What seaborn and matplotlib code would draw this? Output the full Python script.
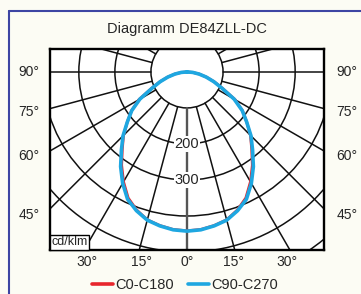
import numpy as np
import pandas as pd
import matplotlib
matplotlib.use('Agg')
import matplotlib.pyplot as plt
import seaborn as sns
from matplotlib.patches import Circle
from matplotlib.lines import Line2D

sns.set_style('white')
plt.rcParams['font.family'] = ['Liberation Sans', 'DejaVu Sans']

# luminous intensity distribution, cd/klm, angle from nadir (deg)
angles = [0, 5, 10, 15, 20, 25, 30, 35, 40, 45, 50, 55, 60, 65, 70, 75, 80, 85, 90]
c0_c180 = [441, 439, 433, 425, 408, 386, 352, 316, 279, 249, 216, 188, 154, 109, 81, 56, 35, 16, 0]
c90_c270 = [442, 440, 434, 426, 410, 390, 357, 321, 283, 251, 216, 187, 151, 107, 79, 55, 34, 16, 0]
series_names = ['C0-C180', 'C90-C270']
series_colors = ['#e8262d', '#1ea7e1']

ring_values = [100, 200, 300, 400, 500, 600]
ring_labels = ['200', '300']
side_labels = ['90°', '75°', '60°', '45°']
bottom_labels = ['30°', '15°', '0°', '15°', '30°']
title = 'Diagramm DE84ZLL-DC'

W, H = 361, 294
bg = '#fcfcf4'


def polar_frame(name, values):
    th = np.deg2rad(np.r_[-np.array(angles[::-1]), np.array(angles[1:])])
    r = np.r_[np.array(values[::-1]), np.array(values[1:])]
    return pd.DataFrame({'x': r * np.sin(th), 'y': -r * np.cos(th), 'series': name})


df = pd.concat([polar_frame(series_names[0], c0_c180),
                polar_frame(series_names[1], c90_c270)], ignore_index=True)

fig = plt.figure(figsize=(W / 100, H / 100), dpi=100, facecolor=bg)
ax = fig.add_axes([50 / W, 1 - 249.5 / H, 274 / W, 201 / H])
ax.set_facecolor('white')

# grid: rings and radial lines (from the 100 ring outward)
for rv in ring_values:
    ax.add_patch(Circle((0, 0), rv, fill=False, ec='#111111', lw=1.1, zorder=1))
for a in range(-180, 180, 15):
    t = np.deg2rad(a)
    col, lw = ('#555555', 1.7) if a == 0 else ('#111111', 1.1)
    ax.plot([100 * np.sin(t), 1200 * np.sin(t)], [-100 * np.cos(t), -1200 * np.cos(t)],
            color=col, lw=lw, zorder=1)

widths = [2.0, 2.6]
for name, col, lw in zip(series_names, series_colors, widths):
    sns.lineplot(data=df[df['series'] == name], x='x', y='y', sort=False, estimator=None,
                 color=col, lw=lw, ax=ax, label=name, zorder=3)

for lab in ring_labels:
    ax.text(0, -float(lab), lab, ha='center', va='center', fontsize=10.5, zorder=4,
            bbox=dict(boxstyle='square,pad=0.08', fc='white', ec='none'))

ax.text(0.004, 0.006, 'cd/klm', transform=ax.transAxes, ha='left', va='bottom', fontsize=9, zorder=5,
        bbox=dict(boxstyle='square,pad=0.12', fc='white', ec='black', lw=1.0))

ax.set_xlim(-380, 380)
ax.set_ylim(-493, 65)
ax.set_xticks([])
ax.set_yticks([])
ax.set_xlabel('')
ax.set_ylabel('')
for s in ax.spines.values():
    s.set_visible(True)
    s.set_color('black')
    s.set_linewidth(1.7)
ax.get_legend().remove()

# labels around the box
fig.text(187 / W, 1 - 29 / H, title, ha='center', va='center', fontsize=10.5)
for lab, py in zip(side_labels, [72, 112, 156, 215]):
    fig.text(29 / W, 1 - py / H, lab, ha='center', va='center', fontsize=10)
    fig.text(347 / W, 1 - py / H, lab, ha='center', va='center', fontsize=10)
for lab, px in zip(bottom_labels, [87, 142, 187, 233, 287]):
    fig.text(px / W, 1 - 262 / H, lab, ha='center', va='center', fontsize=10)

# outer frame
fig.add_artist(Line2D([8.5 / W, 8.5 / W], [0, 1 - 11 / H], color='#3d45a3', lw=1.5))
fig.add_artist(Line2D([8.5 / W, 1], [1 - 11 / H, 1 - 11 / H], color='#3d45a3', lw=1.5))

handles = [Line2D([], [], color=c, lw=2.6) for c in series_colors]
fig.legend(handles, series_names, loc='center', bbox_to_anchor=(185 / W, 1 - 285 / H),
           ncol=2, frameon=False, fontsize=10.5, handlelength=1.45, handletextpad=0.15,
           columnspacing=1.0, borderpad=0, borderaxespad=0)

fig.savefig('out.png', dpi=100, facecolor=bg)
